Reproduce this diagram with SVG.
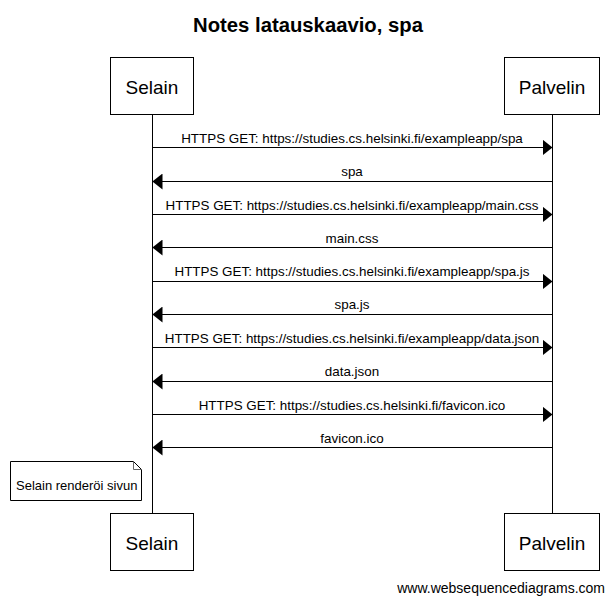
<svg xmlns="http://www.w3.org/2000/svg" width="615" height="605" viewBox="0 0 615 605">
<style>
text{font-family:"Liberation Sans",Arial,sans-serif;fill:#000}
.title{font-size:20.3px;font-weight:bold;text-anchor:middle}
.actor{font-size:19px;text-anchor:middle}
.lbl{font-size:13.4px;text-anchor:middle}
.box{fill:#fff;stroke:#000;stroke-width:1}
.life{stroke:#000;stroke-width:1}
.msg{stroke:#000;stroke-width:1;fill:none}
</style>
<defs>
<marker id="ah" viewBox="0 0 10 16" refX="10" refY="8" markerWidth="10" markerHeight="16" markerUnits="userSpaceOnUse" orient="auto">
<path d="M0,0 L10,8 L0,16 Z" fill="#000"/>
</marker>
</defs>
<rect width="615" height="605" fill="#fff"/>
<text class="title" x="308" y="32">Notes latauskaavio, spa</text>
<g id="lifelines">
<line class="life" x1="152.5" y1="114" x2="152.5" y2="513"/>
<line class="life" x1="552.5" y1="114" x2="552.5" y2="513"/>
</g>
<g id="selain-top"><rect class="box" x="110.5" y="57.5" width="83" height="57"/><text class="actor" x="152" y="94">Selain</text></g>
<g id="palvelin-top"><rect class="box" x="504.5" y="57.5" width="95" height="57"/><text class="actor" x="552" y="94">Palvelin</text></g>
<g id="selain-bottom"><rect class="box" x="110.5" y="513.5" width="83" height="57"/><text class="actor" x="152" y="550">Selain</text></g>
<g id="palvelin-bottom"><rect class="box" x="504.5" y="513.5" width="95" height="57"/><text class="actor" x="552" y="550">Palvelin</text></g>
<g id="connectors">
<line class="msg" x1="152.5" y1="147.5" x2="552.5" y2="147.5" marker-end="url(#ah)"/>
<line class="msg" x1="552.5" y1="181.5" x2="152.5" y2="181.5" marker-end="url(#ah)"/>
<line class="msg" x1="152.5" y1="214.5" x2="552.5" y2="214.5" marker-end="url(#ah)"/>
<line class="msg" x1="552.5" y1="247.5" x2="152.5" y2="247.5" marker-end="url(#ah)"/>
<line class="msg" x1="152.5" y1="281.5" x2="552.5" y2="281.5" marker-end="url(#ah)"/>
<line class="msg" x1="552.5" y1="314.5" x2="152.5" y2="314.5" marker-end="url(#ah)"/>
<line class="msg" x1="152.5" y1="347.5" x2="552.5" y2="347.5" marker-end="url(#ah)"/>
<line class="msg" x1="552.5" y1="381.5" x2="152.5" y2="381.5" marker-end="url(#ah)"/>
<line class="msg" x1="152.5" y1="414.5" x2="552.5" y2="414.5" marker-end="url(#ah)"/>
<line class="msg" x1="552.5" y1="447.5" x2="152.5" y2="447.5" marker-end="url(#ah)"/>
<text class="lbl" x="352" y="143">HTTPS GET: https://studies.cs.helsinki.fi/exampleapp/spa</text>
<text class="lbl" x="352" y="176">spa</text>
<text class="lbl" x="352" y="210">HTTPS GET: https://studies.cs.helsinki.fi/exampleapp/main.css</text>
<text class="lbl" x="352" y="243">main.css</text>
<text class="lbl" x="352" y="276">HTTPS GET: https://studies.cs.helsinki.fi/exampleapp/spa.js</text>
<text class="lbl" x="352" y="309">spa.js</text>
<text class="lbl" x="352" y="343">HTTPS GET: https://studies.cs.helsinki.fi/exampleapp/data.json</text>
<text class="lbl" x="352" y="376">data.json</text>
<text class="lbl" x="352" y="410">HTTPS GET: https://studies.cs.helsinki.fi/favicon.ico</text>
<text class="lbl" x="352" y="443">favicon.ico</text>
</g>
<g id="note">
<path d="M10.5,461.5 H133.5 L141.5,469.5 V500.5 H10.5 Z" fill="#fff" stroke="#000"/>
<path d="M133.5,461.5 V469.5 H141.5" fill="none" stroke="#666"/>
<text x="16" y="490" style="font-size:13px">Selain renderöi sivun</text>
</g>
<text x="605" y="593" style="font-size:14px;text-anchor:end">www.websequencediagrams.com</text>
</svg>
